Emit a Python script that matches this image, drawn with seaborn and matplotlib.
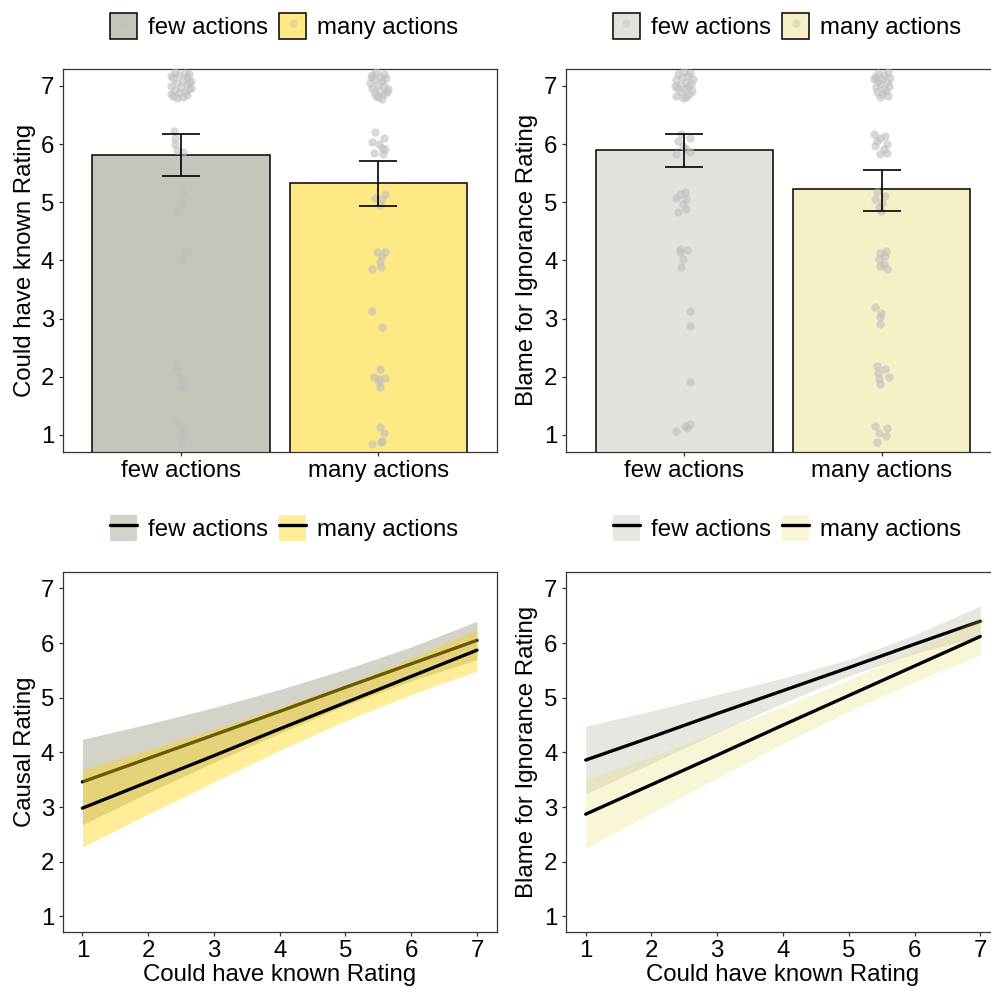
import numpy as np
import pandas as pd
import matplotlib
matplotlib.use("Agg")
import matplotlib.pyplot as plt
import seaborn as sns
from matplotlib.patches import Patch
from matplotlib.lines import Line2D

sns.set_theme(style="white")
plt.rcParams['font.family'] = ['Liberation Sans', 'DejaVu Sans']
plt.rcParams['text.color'] = 'black'

# ---------------- data ----------------
conditions = ["few actions", "many actions"]

# top-left: Could have known Rating
tl_mean = [5.81, 5.33]
tl_lo = [5.45, 4.94]
tl_hi = [6.175, 5.71]
# top-right: Blame for Ignorance Rating
tr_mean = [5.90, 5.22]
tr_lo = [5.61, 4.84]
tr_hi = [6.175, 5.56]

# jittered individual ratings (y) and horizontal jitter offsets (dx)
tl_few_y = [7.24, 7.22, 7.20, 7.18, 7.15, 7.13, 7.10, 7.08, 7.05, 7.03, 7.00, 6.98,
            6.95, 6.93, 6.90, 6.88, 6.85, 6.83, 6.80, 6.79, 7.17, 7.06, 6.96, 6.86,
            6.23, 6.11, 6.00, 5.87, 5.90,
            5.19, 4.99, 4.84,
            4.16, 4.02,
            2.16, 2.01, 1.93, 1.84,
            1.21, 1.10, 0.98, 0.90]
tl_few_dx = [-0.03, 0.02, 0.04, -0.01, 0.03, -0.04, 0.01, 0.05, -0.02, 0.03, -0.05, 0.00,
             0.04, -0.03, 0.02, -0.01, 0.03, -0.04, 0.01, -0.02, -0.05, 0.04, 0.05, -0.05,
             -0.035, -0.03, -0.03, 0.012, -0.022,
             0.003, 0.003, -0.022,
             0.025, 0.003,
             -0.022, -0.005, 0.012, -0.005,
             -0.013, 0.012, 0.003, 0.003]

tl_many_y = [7.24, 7.21, 7.19, 7.16, 7.13, 7.11, 7.08, 7.05, 7.02, 7.00, 6.97, 6.95,
             6.92, 6.89, 6.86, 6.83, 6.80, 6.78, 7.15, 6.90,
             6.20, 6.11, 6.03, 6.00, 5.94, 5.91, 5.84, 5.83,
             5.14, 5.08, 5.05, 4.95,
             4.15, 4.14, 4.07, 3.97, 3.88, 3.85,
             3.13, 2.85,
             2.13, 1.99, 1.96, 1.97, 1.90, 1.83,
             1.14, 1.04, 0.87, 0.84, 0.89]
tl_many_dx = [-0.01, 0.03, -0.03, 0.01, 0.04, -0.02, 0.02, -0.04, 0.00, 0.03, -0.03, 0.05,
              0.01, -0.02, 0.03, -0.01, 0.00, 0.02, -0.035, 0.045,
              -0.015, 0.027, -0.032, 0.002, 0.019, 0.035, -0.024, 0.024,
              0.032, -0.015, 0.019, 0.010,
              -0.007, 0.032, 0.019, 0.010, 0.015, -0.032,
              -0.032, 0.019,
              0.007, -0.024, 0.002, 0.032, 0.002, 0.007,
              0.007, 0.027, 0.015, -0.032, 0.019]

tr_few_y = [7.25, 7.22, 7.20, 7.17, 7.15, 7.12, 7.10, 7.07, 7.04, 7.02, 6.99, 6.97,
            6.94, 6.91, 6.89, 6.86, 6.83, 6.81, 6.79, 7.00,
            6.17, 6.11, 6.05, 5.97, 5.91, 5.83, 5.86,
            5.18, 5.14, 5.08, 5.05, 4.97, 4.88, 4.83,
            4.19, 4.18, 4.14, 4.03, 3.88,
            3.13, 2.87,
            1.90,
            1.18, 1.15, 1.12, 1.06]
tr_few_dx = [0.00, 0.03, -0.03, 0.02, -0.01, 0.045, -0.04, 0.01, 0.035, -0.02, 0.02, -0.035,
             0.005, 0.04, -0.015, 0.025, -0.04, 0.01, -0.005, -0.05,
             -0.015, 0.027, -0.032, -0.007, 0.010, -0.040, 0.027,
             0.002, -0.024, -0.040, 0.010, -0.007, 0.010, -0.032,
             -0.024, 0.013, -0.024, -0.007, -0.019,
             0.030, 0.027,
             0.027,
             0.030, 0.002, 0.013, -0.040]

tr_many_y = [7.24, 7.22, 7.19, 7.16, 7.14, 7.11, 7.08, 7.06, 7.03, 7.00, 6.98, 6.95,
             6.92, 6.89, 6.86, 6.83, 6.80, 7.12,
             6.17, 6.14, 6.11, 6.05, 6.00, 5.97, 5.91, 5.84, 5.83,
             5.17, 5.11, 5.05, 4.99, 4.91, 4.85,
             4.16, 4.12, 4.07, 4.02, 3.93, 3.90, 3.85,
             3.19, 3.10, 3.02, 2.91,
             2.19, 2.13, 2.07, 1.99, 1.96, 1.88,
             1.16, 1.12, 1.04, 0.98, 0.87]
tr_many_dx = [0.03, -0.02, 0.01, -0.035, 0.04, 0.00, -0.02, 0.025, -0.01, 0.035, -0.03, 0.01,
              0.02, -0.025, 0.00, 0.03, -0.01, -0.04,
              -0.040, 0.019, -0.007, -0.024, 0.027, -0.032, 0.010, 0.027, -0.007,
              -0.024, 0.019, -0.032, 0.002, -0.015, -0.002,
              0.024, -0.007, 0.019, -0.015, 0.010, -0.007, 0.027,
              -0.035, -0.002, -0.007, -0.007,
              -0.024, 0.015, -0.019, 0.035, -0.015, -0.007,
              -0.032, 0.027, -0.015, 0.024, -0.024]

# bottom panels: fitted lines and 95% bands at x = 1..7
x_grid = [1, 2, 3, 4, 5, 6, 7]
bl_few_fit = [3.46, 3.89, 4.32, 4.75, 5.19, 5.62, 6.05]
bl_few_hi = [4.24, 4.52, 4.82, 5.15, 5.52, 5.93, 6.40]
bl_few_lo = [2.68, 3.26, 3.82, 4.35, 4.86, 5.31, 5.70]
bl_many_fit = [2.98, 3.46, 3.94, 4.43, 4.91, 5.39, 5.87]
bl_many_hi = [3.69, 4.05, 4.42, 4.82, 5.24, 5.72, 6.25]
bl_many_lo = [2.27, 2.87, 3.46, 4.04, 4.58, 5.06, 5.49]

br_few_fit = [3.86, 4.28, 4.71, 5.13, 5.55, 5.98, 6.40]
br_few_hi = [4.48, 4.76, 5.06, 5.36, 5.70, 6.15, 6.68]
br_few_lo = [3.24, 3.80, 4.36, 4.90, 5.40, 5.81, 6.12]
br_many_fit = [2.87, 3.41, 3.95, 4.50, 5.04, 5.58, 6.12]
br_many_hi = [3.50, 3.93, 4.37, 4.84, 5.33, 5.87, 6.46]
br_many_lo = [2.24, 2.89, 3.53, 4.16, 4.75, 5.29, 5.78]

ticks_1_7 = [1, 2, 3, 4, 5, 6, 7]

# ---------------- styling ----------------
FS = 17.3
GRAY = "#96967F"
GOLD = "#FFD50B"
GOLD_LIGHT = "#E8D84A"
tl_colors = ["#C5C5BC", "#FFE985"]
tr_colors = ["#E3E3DE", "#F5F0C6"]
PT_COLOR = "#BEBEBE"

W, H = 991, 989
fig = plt.figure(figsize=(W / 100, H / 100), dpi=100)

def px_axes(x0, y0, x1, y1):
    return fig.add_axes([x0 / W, (H - y1) / H, (x1 - x0) / W, (y1 - y0) / H])

ax_tl = px_axes(62.7, 69, 496.7, 451.7)
ax_tr = px_axes(566, 69, 1000, 451.7)
ax_bl = px_axes(62.7, 572, 496.7, 931.7)
ax_br = px_axes(566, 572, 1000, 931.7)

def style_axes(ax):
    for sp in ax.spines.values():
        sp.set_visible(True)
        sp.set_color("#333333")
        sp.set_linewidth(0.9)
    ax.tick_params(axis="both", which="major", bottom=True, left=True, direction="out",
                   length=3.2, width=0.9, color="#333333", labelsize=FS,
                   labelcolor="black", pad=3)

def bar_panel(ax, means, lo, hi, colors, few_y, few_dx, many_y, many_dx, ylabel):
    df = pd.DataFrame({"cond": conditions, "mean": means})
    sns.barplot(data=df, x="cond", y="mean", hue="cond", palette=colors,
                saturation=1, width=0.9, edgecolor="black", linewidth=1.1, ax=ax,
                legend=False, errorbar=None, zorder=1)
    pts = pd.DataFrame({
        "x": [0 + d for d in few_dx] + [1 + d for d in many_dx],
        "y": few_y + many_y,
    })
    sns.scatterplot(data=pts, x="x", y="y", color=PT_COLOR, alpha=0.6, s=36,
                    linewidth=0, ax=ax, zorder=3)
    m = np.array(means)
    yerr = np.vstack([m - np.array(lo), np.array(hi) - m])
    ax.errorbar([0, 1], m, yerr=yerr, fmt="none", ecolor="black",
                elinewidth=1.2, capsize=13.5, capthick=1.2, zorder=4)
    ax.set_xlim(-0.6, 1.6)
    ax.set_ylim(0.71, 7.29)
    ax.set_yticks(ticks_1_7)
    ax.set_xlabel("")
    ax.set_ylabel(ylabel, fontsize=FS, color="black")
    style_axes(ax)

bar_panel(ax_tl, tl_mean, tl_lo, tl_hi, tl_colors, tl_few_y, tl_few_dx,
          tl_many_y, tl_many_dx, "Could have known Rating")
bar_panel(ax_tr, tr_mean, tr_lo, tr_hi, tr_colors, tr_few_y, tr_few_dx,
          tr_many_y, tr_many_dx, "Blame for Ignorance Rating")

def line_panel(ax, few, many, alpha, gold, ylabel):
    for (fit, lo, hi), col, z in [(few, GRAY, 1), (many, gold, 3)]:
        ax.fill_between(x_grid, lo, hi, color=col, alpha=alpha, linewidth=0, zorder=z)
        sns.lineplot(x=x_grid, y=fit, color="black", linewidth=2.4, ax=ax,
                     zorder=z + 1)
    ax.set_xlim(0.7, 7.3)
    ax.set_ylim(0.72, 7.3)
    ax.set_xticks(ticks_1_7)
    ax.set_yticks(ticks_1_7)
    ax.set_xlabel("Could have known Rating", fontsize=FS, color="black")
    ax.set_ylabel(ylabel, fontsize=FS, color="black")
    style_axes(ax)

line_panel(ax_bl, (bl_few_fit, bl_few_lo, bl_few_hi),
           (bl_many_fit, bl_many_lo, bl_many_hi), 0.42, GOLD, "Causal Rating")
line_panel(ax_br, (br_few_fit, br_few_lo, br_few_hi),
           (br_many_fit, br_many_lo, br_many_hi), 0.22, GOLD_LIGHT,
           "Blame for Ignorance Rating")

# label positions
ax_tl.yaxis.set_label_coords((36 - 62.7) / 434, 0.5)
ax_bl.yaxis.set_label_coords((36 - 62.7) / 434, 0.5)
ax_tr.yaxis.set_label_coords((538 - 566) / 434, 0.5)
ax_br.yaxis.set_label_coords((538 - 566) / 434, 0.5)
ax_bl.xaxis.set_label_coords(0.5, -0.09)
ax_br.xaxis.set_label_coords(0.5, -0.09)

# legends
def bar_handles(colors):
    hs = []
    for c in colors:
        hs.append((Patch(facecolor=c, edgecolor="black", linewidth=1.1),
                   Line2D([], [], marker="o", linestyle="", color=PT_COLOR,
                          alpha=0.4, markersize=6, markeredgewidth=0)))
    return hs

def line_handles(alpha, gold):
    hs = []
    for c in [GRAY, gold]:
        hs.append((Patch(facecolor=c, alpha=alpha, edgecolor="none"),
                   Line2D([], [], color="black", linewidth=2.4)))
    return hs

leg_kw = dict(loc="center", ncol=2, frameon=False, fontsize=FS, handlelength=1.15,
              handleheight=1.35, handletextpad=0.45, columnspacing=0.45,
              borderaxespad=0, borderpad=0, labelcolor="black")
fig.legend(bar_handles(tl_colors), conditions,
           bbox_to_anchor=(284 / W, 1 - 26 / H), **leg_kw)
fig.legend(bar_handles(tr_colors), conditions,
           bbox_to_anchor=(787 / W, 1 - 26 / H), **leg_kw)
fig.legend(line_handles(0.42, GOLD), conditions,
           bbox_to_anchor=(284 / W, 1 - 528 / H), **leg_kw)
fig.legend(line_handles(0.22, GOLD_LIGHT), conditions,
           bbox_to_anchor=(787 / W, 1 - 528 / H), **leg_kw)

fig.savefig("out.png", dpi=100)
